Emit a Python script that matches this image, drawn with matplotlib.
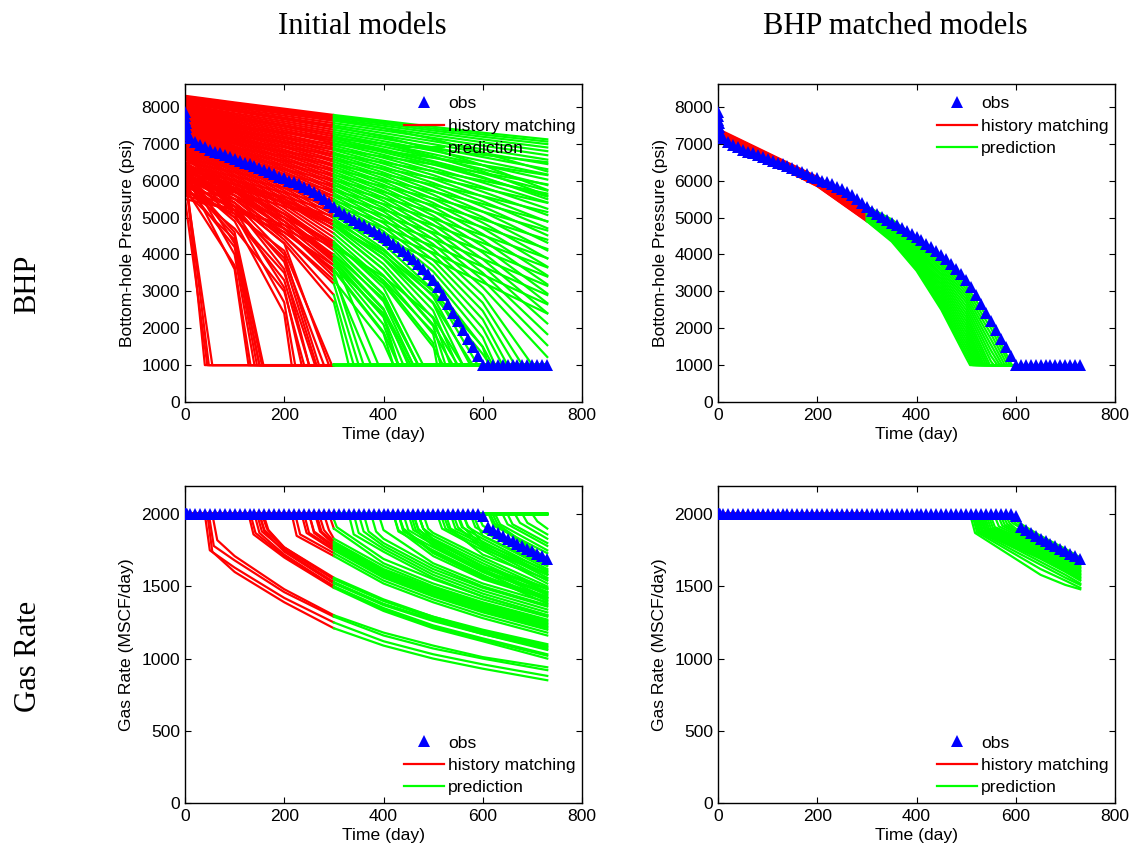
import numpy as np
import matplotlib
matplotlib.use("Agg")
import matplotlib.pyplot as plt
from matplotlib.lines import Line2D

plt.rcParams['font.family'] = ['Liberation Sans', 'DejaVu Sans']

# ---------------------------------------------------------------- observed data
obs_days = [0, 0.5, 1, 1.5, 2, 3, 5] + list(range(10, 731, 10))
obs_bhp = [7850, 7750, 7650, 7550, 7450, 7350, 7250,
           7150, 7050, 6970, 6900, 6840, 6790, 6740, 6690, 6640, 6590,
           6540, 6490, 6440, 6390, 6340, 6290, 6230, 6170, 6110, 6060,
           6000, 5950, 5900, 5840, 5780, 5700, 5610, 5510, 5400, 5280,
           5190, 5100, 5020, 4940, 4860, 4790, 4720, 4640, 4560, 4480,
           4390, 4290, 4190, 4090, 3990, 3870, 3740, 3610, 3470, 3320,
           3110, 2890, 2650, 2420, 2200, 1960, 1720, 1480, 1250, 1000,
           1000, 1000, 1000, 1000, 1000, 1000, 1000, 1000, 1000, 1000,
           1000, 1000, 1000]
obs_gas = [2000] * 66 + [1985, 1910, 1890, 1870, 1850, 1830, 1815,
                         1795, 1780, 1760, 1745, 1725, 1710, 1690]

HIST_END = 300        # end of the history-matching period (day)
END_DAY = 730
BHP_LIMIT = 1000      # psi
RATE_TARGET = 2000    # MSCF/day
AFTER_LIMIT = 10      # days after the BHP limit at which the first reduced rate is reported

# ---------------------------------------------------------------- initial ensemble
# BHP (psi) at init_days, listed up to the day the member reaches the BHP limit
init_days = [0, 100, 200, 300, 400, 500, 600, 730]
init_bhp = [
    [8300, 8120, 7950, 7780, 7620, 7460, 7300, 7120],
    [8280, 8100, 7920, 7750, 7580, 7410, 7250, 7060],
    [8260, 8070, 7890, 7710, 7540, 7360, 7190, 6990],
    [8230, 8040, 7850, 7670, 7490, 7300, 7120, 6900],
    [8200, 8000, 7810, 7620, 7430, 7230, 7040, 6800],
    [8160, 7960, 7760, 7560, 7360, 7160, 6950, 6690],
    [8130, 7920, 7710, 7500, 7290, 7070, 6850, 6570],
    [8100, 7880, 7660, 7440, 7220, 6990, 6750, 6450],
    [8060, 7830, 7610, 7380, 7140, 6900, 6640, 6310],
    [8030, 7790, 7560, 7320, 7070, 6810, 6530, 6170],
    [8000, 7750, 7510, 7260, 7000, 6720, 6420, 6030],
    [7970, 7710, 7460, 7200, 6920, 6630, 6310, 5880],
    [7940, 7670, 7410, 7140, 6850, 6530, 6190, 5730],
    [7910, 7630, 7360, 7080, 6770, 6440, 6070, 5570],
    [7880, 7590, 7310, 7020, 6700, 6340, 5950, 5410],
    [7850, 7550, 7250, 6950, 6620, 6250, 5830, 5240],
    [7820, 7510, 7200, 6890, 6540, 6150, 5700, 5070],
    [7790, 7470, 7150, 6830, 6460, 6050, 5570, 4890],
    [7760, 7430, 7100, 6760, 6380, 5940, 5440, 4710],
    [7730, 7390, 7050, 6700, 6300, 5840, 5300, 4520],
    [7700, 7350, 7000, 6640, 6220, 5730, 5160, 4320],
    [7670, 7310, 6950, 6570, 6140, 5620, 5010, 4110],
    [7640, 7270, 6900, 6510, 6060, 5510, 4860, 3890],
    [7610, 7230, 6840, 6440, 5970, 5400, 4710, 3670],
    [7580, 7190, 6790, 6380, 5890, 5290, 4550, 3430],
    [7550, 7150, 6740, 6310, 5800, 5170, 4390, 3190],
    [7520, 7110, 6690, 6240, 5720, 5050, 4220, 2940],
    [7490, 7070, 6630, 6170, 5630, 4930, 4050, 2680],
    [7460, 7030, 6580, 6100, 5540, 4810, 3870, 2410],
    [7430, 6990, 6520, 6030, 5450, 4680, 3690, 2130],
    [7400, 6940, 6470, 5960, 5350, 4550, 3500, 1840],
    [7370, 6900, 6410, 5890, 5260, 4420, 3310, 1540],
    [7340, 6860, 6350, 5810, 5160, 4280, 3110, 1220],
    [7310, 6820, 6300, 5740, 5060, 4140, 2900],
    [7280, 6780, 6240, 5660, 4960, 4000, 2690],
    [7250, 6730, 6180, 5580, 4850, 3850, 2470],
    [7220, 6690, 6120, 5500, 4740, 3700, 2240],
    [7190, 6650, 6060, 5420, 4630, 3540, 2000],
    [7160, 6600, 6000, 5340, 4520, 3380, 1750],
    [7130, 6560, 5930, 5250, 4400, 3210, 1490],
    [7100, 6510, 5870, 5160, 4280, 3040],
    [7060, 6470, 5800, 5070, 4150, 2860],
    [7030, 6420, 5730, 4980, 4020, 2670],
    [7000, 6370, 5660, 4880, 3880, 2480],
    [6960, 6320, 5590, 4780, 3740, 2270],
    [6930, 6270, 5510, 4680, 3590, 2060],
    [6890, 6220, 5430, 4570, 3430, 1840],
    [6860, 6160, 5350, 4460, 3270, 1600],
    [6820, 6110, 5270, 4350, 3100],
    [6780, 6050, 5180, 4230, 2920],
    [6740, 5990, 5090, 4110, 2730],
    [6700, 5930, 5000, 3980, 2530],
    [6660, 5870, 4900, 3850, 2320],
    [6620, 5800, 4800, 3710, 2100],
    [6580, 5740, 4700, 3560, 1860],
    [6300], [6250], [6050], [5500],
    [6400, 4300], [6350, 4000], [6200, 3600], [6100, 4600],
    [6000, 4500], [5900, 4200], [5800, 3700], [5700, 4400],
    [6450, 5300, 3600], [6400, 5200, 3100], [6350, 5400, 4000],
    [6300, 5100, 2700], [6200, 5300, 3800], [6150, 5000, 3300],
    [6100, 5400, 4300], [6050, 4900, 2400], [6000, 5200, 3900],
    [5900, 5000, 3500], [5800, 4700, 3000], [5700, 5100, 4100],
    [6500, 5700, 4700, 3500], [6450, 5600, 4500, 3200],
    [6400, 5800, 5000, 3900], [6350, 5500, 4400, 2900],
    [6300, 5700, 4900, 3800, 2300], [6250, 5800, 5100, 4200, 2900],
    [6200, 5600, 4700, 3400], [6150, 5500, 4600, 3600, 1900],
    [6100, 5700, 5100, 4300, 3200, 1500], [6050, 5400, 4300, 2700],
    [6000, 5600, 4900, 3900, 2500], [5900, 5300, 4500, 3300, 1600],
    [5800, 5500, 5000, 4300, 3300, 1900], [5700, 5300, 4700, 4000, 2800],
    [5600, 5200, 4600, 3700, 2400], [5500, 5200, 4800, 4200, 3400, 2300],
    [6400, 6000, 5500, 4800, 3900, 2700], [6300, 5900, 5400, 4700, 3600, 2100],
    [6200, 5900, 5500, 4900, 4100, 3000, 1500],
    [6100, 5800, 5400, 4800, 4000, 2900, 1300],
]
# day each member reaches the BHP limit (None: never within the run)
init_hit = ([None] * 33 +
            [700, 680, 665, 650, 640, 625, 612, 590, 575, 560, 548,
             535, 525, 515, 508, 480, 470, 460, 450, 440, 430, 420] +
            [40, 48, 55, 45, 150, 140, 128, 158, 155, 145, 132, 150,
             250, 235, 270, 222, 265, 250, 290, 215, 280, 262, 240, 296,
             360, 350, 390, 340, 430, 470, 375, 430, 520, 330, 460, 420,
             540, 470, 455, 560, 580, 550, 620, 615])

# slowly declining members that stay above the limit for the whole run
init_bhp_slow = [
    [8200, 8030, 7850, 7650, 7420, 7130, 6760, 6250],
    [8100, 7900, 7690, 7460, 7190, 6850, 6420, 5750],
    [7900, 7700, 7490, 7260, 6990, 6660, 6250, 5600],
    [7700, 7500, 7300, 7080, 6820, 6500, 6100, 5500],
    [7600, 7450, 7300, 7150, 7000, 6850, 6700, 6500],
    [7500, 7330, 7160, 6990, 6810, 6620, 6420, 6150],
    [7400, 7220, 7040, 6850, 6650, 6440, 6210, 5900],
    [7300, 7110, 6910, 6710, 6490, 6260, 6000, 5650],
    [7200, 7000, 6790, 6570, 6330, 6070, 5790, 5400],
    [7100, 6890, 6670, 6430, 6170, 5890, 5580, 5150],
    [7000, 6780, 6540, 6290, 6010, 5710, 5370, 4900],
    [6900, 6670, 6420, 6150, 5850, 5520, 5160, 4650],
    [6800, 6560, 6300, 6010, 5690, 5340, 4950, 4400],
    [6700, 6450, 6170, 5870, 5530, 5160, 4740, 4150],
    [6600, 6340, 6050, 5730, 5370, 4970, 4520, 3900],
    [6500, 6230, 5930, 5590, 5210, 4790, 4310, 3650],
    [6400, 6120, 5800, 5450, 5050, 4600, 4100, 3400],
    [6300, 6010, 5680, 5310, 4890, 4420, 3880, 3150],
    [6200, 5900, 5560, 5170, 4730, 4230, 3670, 2900],
    [6100, 5790, 5430, 5030, 4570, 4050, 3450, 2650],
    [6000, 5680, 5310, 4890, 4410, 3860, 3240, 2400],
]

# gas rate (MSCF/day) once the limit is reached: first reduced rate, then the
# values at the last len(row) entries of gas_days
gas_days = [100, 200, 300, 400, 500, 600, 730]
init_gas_first = ([None] * 33 +
                  [1950, 1940, 1940, 1930, 1930, 1930, 1920, 1920, 1910, 1910, 1910,
                   1900, 1900, 1900, 1900, 1900, 1900, 1890, 1890, 1890, 1880, 1880] +
                  [1750, 1780, 1820, 1740, 1880, 1870, 1860, 1890, 1900, 1880, 1870, 1890,
                   1880, 1870, 1890, 1860, 1880, 1870, 1900, 1850, 1890, 1880, 1870, 1910,
                   1880, 1880, 1890, 1870, 1900, 1900, 1880, 1890, 1910, 1860, 1900, 1890,
                   1910, 1900, 1890, 1920, 1920, 1910, 1930, 1930])
init_gas = [None] * 33 + [
    [1900], [1860], [1830], [1800], [1780], [1750], [1730], [1680],
    [1880, 1650], [1850, 1620], [1830, 1600], [1810, 1580], [1790, 1560],
    [1770, 1540], [1750, 1520],
    [1870, 1700, 1500], [1850, 1680, 1480], [1830, 1660, 1460],
    [1810, 1640, 1440], [1790, 1620, 1420], [1770, 1600, 1400], [1750, 1580, 1380],
    [1630, 1420, 1250, 1120, 1030, 960, 880],
    [1680, 1460, 1290, 1160, 1070, 1000, 920],
    [1710, 1480, 1300, 1180, 1090, 1010, 940],
    [1600, 1390, 1210, 1090, 1000, 930, 850],
    [1740, 1520, 1370, 1260, 1170, 1060],
    [1720, 1500, 1350, 1230, 1140, 1030],
    [1700, 1490, 1330, 1210, 1120, 1000],
    [1770, 1560, 1410, 1290, 1190, 1090],
    [1760, 1550, 1400, 1280, 1180, 1080],
    [1750, 1530, 1380, 1270, 1170, 1070],
    [1710, 1500, 1340, 1220, 1130, 1020],
    [1770, 1550, 1400, 1290, 1200, 1100],
    [1780, 1590, 1460, 1350, 1230], [1750, 1560, 1430, 1320, 1200],
    [1810, 1620, 1490, 1380, 1260], [1730, 1540, 1410, 1300, 1180],
    [1800, 1610, 1480, 1370, 1250], [1770, 1580, 1450, 1340, 1220],
    [1660, 1520, 1410, 1290], [1710, 1520, 1390, 1280, 1160],
    [1830, 1640, 1500, 1390, 1270], [1790, 1600, 1470, 1360, 1240],
    [1760, 1570, 1440, 1330, 1210], [1690, 1550, 1430, 1300],
    [1800, 1620, 1490, 1360], [1780, 1600, 1470, 1340],
    [1660, 1520, 1390], [1760, 1580, 1450, 1320],
    [1740, 1570, 1430], [1820, 1630, 1480],
    [1830, 1640, 1500, 1370], [1730, 1560, 1420],
    [1720, 1550], [1740, 1560, 1430, 1300],
    [1800, 1610, 1460], [1710, 1550, 1410],
    [1760, 1580], [1820, 1640, 1490],
    [1780, 1600, 1450], [1800, 1610],
    [1850, 1640], [1780, 1590],
    [1690], [1680],
]

# ---------------------------------------------------------------- BHP-matched ensemble
match_days = [0, 100, 200, 300, 350, 400, 450, 500, 550]
match_bhp = [
    [7400, 6750, 6100, 5300, 4950, 4450, 3900, 3150, 2150],
    [7380, 6730, 6080, 5280, 4920, 4400, 3830, 3060, 2000],
    [7360, 6720, 6060, 5250, 4890, 4350, 3760, 2970, 1850],
    [7350, 6700, 6040, 5230, 4860, 4300, 3690, 2880, 1700],
    [7340, 6690, 6020, 5210, 4830, 4250, 3620, 2790, 1550],
    [7330, 6680, 6000, 5190, 4800, 4200, 3550, 2700, 1400],
    [7320, 6670, 5990, 5170, 4770, 4150, 3480, 2600, 1250],
    [7310, 6660, 5980, 5150, 4740, 4100, 3410, 2500, 1100],
    [7300, 6650, 5970, 5130, 4710, 4050, 3340, 2400],
    [7290, 6640, 5960, 5110, 4680, 4000, 3270, 2300],
    [7280, 6630, 5950, 5090, 4650, 3960, 3200, 2200],
    [7270, 6620, 5940, 5070, 4620, 3920, 3130, 2100],
    [7260, 6610, 5930, 5050, 4590, 3880, 3060, 2000],
    [7250, 6600, 5920, 5030, 4560, 3840, 2990, 1900],
    [7240, 6590, 5910, 5010, 4530, 3800, 2920, 1800],
    [7230, 6580, 5900, 4990, 4500, 3760, 2850, 1700],
    [7220, 6570, 5890, 4970, 4470, 3720, 2780, 1600],
    [7210, 6560, 5880, 4950, 4440, 3680, 2710, 1500],
    [7200, 6550, 5870, 4930, 4410, 3640, 2640, 1400],
    [7190, 6540, 5860, 4910, 4380, 3600, 2570, 1300],
    [7180, 6530, 5850, 4900, 4350, 3560, 2500, 1200],
]
match_hit = [592, 588, 583, 578, 573, 568, 563, 556, 548, 544, 540,
             536, 533, 530, 527, 524, 521, 518, 515, 512, 508]
match_gas_days = [600, 650, 700, 730]
match_gas_first = [1950, 1945, 1940, 1935, 1930, 1925, 1920, 1915, 1910, 1905, 1900,
                   1900, 1895, 1890, 1890, 1885, 1885, 1880, 1880, 1875, 1870]
match_gas = [
    [1850, 1760, 1700],
    [1935, 1840, 1750, 1690],
    [1925, 1830, 1740, 1680],
    [1900, 1820, 1730, 1670],
    [1890, 1810, 1720, 1660],
    [1880, 1800, 1710, 1650],
    [1870, 1790, 1700, 1640],
    [1860, 1780, 1690, 1630],
    [1850, 1770, 1680, 1620],
    [1840, 1760, 1670, 1610],
    [1830, 1750, 1660, 1600],
    [1820, 1740, 1650, 1590],
    [1810, 1730, 1640, 1580],
    [1800, 1720, 1630, 1570],
    [1790, 1710, 1620, 1560],
    [1780, 1700, 1610, 1550],
    [1770, 1690, 1600, 1540],
    [1760, 1670, 1580, 1520],
    [1740, 1650, 1560, 1510],
    [1720, 1620, 1540, 1490],
    [1690, 1580, 1510, 1480],
]

# ---------------------------------------------------------------- helpers
RED, GREEN, BLUE = (1, 0, 0), (0, 1, 0), (0, 0, 1)
LW = 1.6
FS = 12.6


def bhp_path(days, vals, hit):
    x = list(days[:len(vals)])
    y = list(vals)
    if hit is not None:
        x += [hit, END_DAY]
        y += [BHP_LIMIT, BHP_LIMIT]
    return np.array(x, float), np.array(y, float)


def rate_path(knots, first, vals, hit):
    if hit is None:
        return np.array([0.0, END_DAY]), np.array([RATE_TARGET, RATE_TARGET], float)
    x = [0, hit, hit + AFTER_LIMIT] + list(knots[len(knots) - len(vals):])
    y = [RATE_TARGET, RATE_TARGET, first] + list(vals)
    return np.array(x, float), np.array(y, float)


def split(x, y):
    yc = np.interp(HIST_END, x, y)
    h = x < HIST_END
    p = x > HIST_END
    return (np.r_[x[h], HIST_END], np.r_[y[h], yc]), (np.r_[HIST_END, x[p]], np.r_[yc, y[p]])


def draw_ensemble(ax, paths):
    parts = [split(x, y) for x, y in paths]
    for (hx, hy), _ in parts:
        ax.plot(hx, hy, color=RED, lw=LW)
    for _, (px, py) in parts:
        ax.plot(px, py, color=GREEN, lw=LW)


def style(ax, ylim, yticks, ylabel, legend_loc):
    ax.set_xlim(0, 800)
    ax.set_ylim(*ylim)
    ax.set_xticks([0, 200, 400, 600, 800])
    ax.set_yticks(yticks)
    ax.tick_params(direction='in', length=4, width=0.8, top=True, right=True,
                   labelsize=FS, pad=4.5, colors='black')
    ax.tick_params(axis='y', pad=3.5)
    for s in ax.spines.values():
        s.set_linewidth(1.0)
    ax.set_xlabel('Time (day)', fontsize=FS, labelpad=2.5)
    ax.set_ylabel(ylabel, fontsize=FS, labelpad=5)
    handles = [Line2D([], [], ls='none', marker='^', color=BLUE, ms=8.5,
                      markeredgewidth=0),
               Line2D([], [], color=RED, lw=LW),
               Line2D([], [], color=GREEN, lw=LW)]
    labels = ['obs', 'history matching', 'prediction']
    if legend_loc == 'top':
        kw = dict(loc='upper left', bbox_to_anchor=(0.551, 0.962))
    else:
        kw = dict(loc='lower left', bbox_to_anchor=(0.551, 0.024))
    ax.legend(handles, labels, frameon=False, fontsize=FS, handlelength=2.3,
              handletextpad=0.25, labelspacing=0.41, borderaxespad=0,
              borderpad=0, numpoints=1, **kw)


def draw_obs(ax, vals):
    ax.plot(obs_days, vals, ls='none', marker='^', ms=8.5, color=BLUE,
            markeredgewidth=0, zorder=5)


# ---------------------------------------------------------------- figure
W, H = 1134, 850
fig = plt.figure(figsize=(W / 100, H / 100), dpi=100)


def px_axes(left, top, right, bottom):
    return fig.add_axes([left / W, 1 - bottom / H, (right - left) / W, (bottom - top) / H])


ax_tl = px_axes(185, 84, 582, 402)
ax_tr = px_axes(718, 84, 1115, 402)
ax_bl = px_axes(185, 486, 582, 803)
ax_br = px_axes(718, 486, 1115, 803)

bhp_ylim = (0, 8620)
gas_ylim = (0, 2195)
bhp_ticks = list(range(0, 8001, 1000))
gas_ticks = [0, 500, 1000, 1500, 2000]

all_bhp = init_bhp + init_bhp_slow
all_hit = init_hit + [None] * len(init_bhp_slow)
all_gas_first = init_gas_first + [None] * len(init_bhp_slow)
all_gas = init_gas + [None] * len(init_bhp_slow)

# initial models
draw_ensemble(ax_tl, [bhp_path(init_days, v, h) for v, h in zip(all_bhp, all_hit)])
draw_obs(ax_tl, obs_bhp)
style(ax_tl, bhp_ylim, bhp_ticks, 'Bottom-hole Pressure (psi)', 'top')

draw_ensemble(ax_bl, [rate_path(gas_days, f, v, h)
                      for f, v, h in zip(all_gas_first, all_gas, all_hit)])
draw_obs(ax_bl, obs_gas)
style(ax_bl, gas_ylim, gas_ticks, 'Gas Rate (MSCF/day)', 'bottom')

# BHP matched models
draw_ensemble(ax_tr, [bhp_path(match_days, v, h) for v, h in zip(match_bhp, match_hit)])
draw_obs(ax_tr, obs_bhp)
style(ax_tr, bhp_ylim, bhp_ticks, 'Bottom-hole Pressure (psi)', 'top')

draw_ensemble(ax_br, [rate_path(match_gas_days, f, v, h)
                      for f, v, h in zip(match_gas_first, match_gas, match_hit)])
draw_obs(ax_br, obs_gas)
style(ax_br, gas_ylim, gas_ticks, 'Gas Rate (MSCF/day)', 'bottom')

serif = ['Liberation Serif', 'DejaVu Serif']
fig.text(362 / W, 1 - 27 / H, 'Initial models', family=serif, fontsize=22,
         ha='center', va='center')
fig.text(895 / W, 1 - 27 / H, 'BHP matched models', family=serif, fontsize=22,
         ha='center', va='center')
fig.text(28 / W, 1 - 284 / H, 'BHP', family=serif, fontsize=22, rotation=90,
         ha='center', va='center')
fig.text(28 / W, 1 - 656 / H, 'Gas Rate', family=serif, fontsize=22, rotation=90,
         ha='center', va='center')

fig.savefig('out.png', dpi=100)
